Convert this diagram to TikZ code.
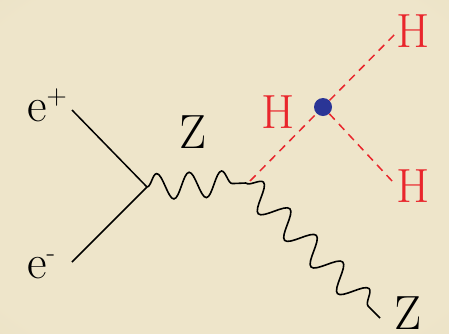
\documentclass[tikz,border=0pt]{standalone}
\definecolor{higgsred}{HTML}{E9262C}
\definecolor{dotblue}{HTML}{2A3596}
\definecolor{parchment}{HTML}{EEE5CA}
\definecolor{parchedge}{HTML}{DFD2AE}
\usetikzlibrary{decorations.pathmorphing}
\pgfdeclareradialshading{vignette}{\pgfpoint{0bp}{0bp}}{color(0bp)=(parchment); color(32bp)=(parchment); color(72bp)=(parchedge)}

\begin{document}
\begin{tikzpicture}[x=1pt,y=-1pt,
    fermion/.style={line width=1.5pt},
    boson/.style={line width=1.6pt,decorate,decoration={snake,amplitude=13pt,segment length=#1}},
    scalar/.style={higgsred,line width=1.5pt,dash pattern=on 8pt off 6pt},
    lbl/.style={font=\rmfamily\fontsize{48}{50}\selectfont,inner sep=0pt,anchor=base west}]
    \shade[shading=vignette] (0,0) rectangle (449,333);
    \useasboundingbox (0,0) rectangle (449,333);
    \coordinate (epend) at (72,110);
    \coordinate (emend) at (72,262);
    \coordinate (vee) at (147,187);
    \coordinate (zhz) at (246,183);
    \coordinate (zend) at (380,318);
    \coordinate (hstart) at (250,181);
    \coordinate (htend) at (397,32);
    \coordinate (hbend) at (393,182);
    \node[circle,fill=dotblue,minimum size=18pt,inner sep=0pt] (hhh) at (323,107) {};
    \draw[fermion] (epend) -- (vee);
    \draw[fermion] (emend) -- (vee);
    \draw[boson=32.5pt] (vee) -- (zhz);
    \draw[boson=37.5pt] (zhz) -- (zend);
    \draw[scalar] (hstart) -- (hhh);
    \draw[scalar] (hhh) -- (htend);
    \draw[scalar] (hhh) -- (hbend);
    \node[lbl] (eplus) at (27,121) {e\raisebox{17pt}{\fontsize{28}{28}\selectfont +}};
    \node[lbl] (eminus) at (27,278) {e\raisebox{17pt}{\fontsize{28}{28}\selectfont -}};
    \node[lbl] (zup) at (179,148) {Z};
    \node[lbl,higgsred] (hleft) at (261,128) {H};
    \node[lbl,higgsred] (htop) at (396,47) {H};
    \node[lbl,higgsred] (hbot) at (396,202) {H};
    \node[lbl] (zdown) at (394,329) {Z};
\end{tikzpicture}
\end{document}
